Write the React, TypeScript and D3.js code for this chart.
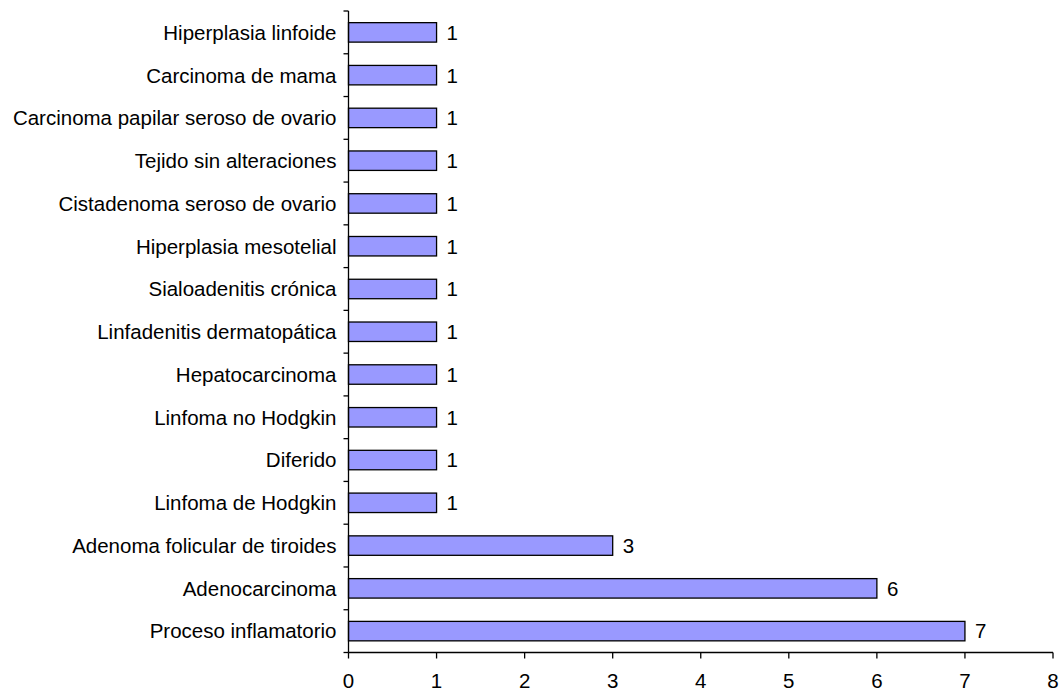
import React from "react";
import * as d3 from "d3";

const categories = [
  "Hiperplasia linfoide",
  "Carcinoma de mama",
  "Carcinoma papilar seroso de ovario",
  "Tejido sin alteraciones",
  "Cistadenoma seroso de ovario",
  "Hiperplasia mesotelial",
  "Sialoadenitis crónica",
  "Linfadenitis dermatopática",
  "Hepatocarcinoma",
  "Linfoma no Hodgkin",
  "Diferido",
  "Linfoma de Hodgkin",
  "Adenoma folicular de tiroides",
  "Adenocarcinoma",
  "Proceso inflamatorio",
];
const counts = [1, 1, 1, 1, 1, 1, 1, 1, 1, 1, 1, 1, 3, 6, 7];
const xTicks = [0, 1, 2, 3, 4, 5, 6, 7, 8];

const W = 1063;
const H = 692;
const left = 348.5;
const right = 1053;
const top = 11;
const bottom = 652.5;
const fontSize = 20.5;
const font = "'Liberation Sans', Arial, sans-serif";

export default function App() {
  const x = d3.scaleLinear().domain([0, 8]).range([left, right]);
  const y = d3
    .scaleBand<string>()
    .domain(categories)
    .range([top, bottom])
    .paddingInner(0.545)
    .paddingOuter(0.2725);
  const bandEdges = d3.range(categories.length + 1).map(
    (i) => top + (i * (bottom - top)) / categories.length
  );

  return (
    <svg
      width={W}
      height={H}
      style={{ position: "absolute", left: 0, top: 0, background: "#fff" }}
      fontFamily={font}
    >
      {categories.map((c, i) => (
        <g key={c}>
          <rect
            x={x(0)}
            y={y(c)!}
            width={x(counts[i]) - x(0)}
            height={y.bandwidth()}
            fill="#9999FF"
            stroke="#000"
            strokeWidth={1.3}
          />
          <text
            x={x(counts[i]) + 10}
            y={y(c)! + y.bandwidth() / 2}
            dy="0.36em"
            fontSize={fontSize}
            fill="#000"
          >
            {counts[i]}
          </text>
          <text
            x={left - 12}
            y={y(c)! + y.bandwidth() / 2}
            dy="0.36em"
            fontSize={fontSize}
            textAnchor="end"
            fill="#000"
          >
            {c}
          </text>
        </g>
      ))}
      {/* category axis */}
      <line x1={left} x2={left} y1={top} y2={bottom} stroke="#000" strokeWidth={1.3} />
      {bandEdges.map((e, i) => (
        <line key={i} x1={left - 5} x2={left} y1={e} y2={e} stroke="#000" strokeWidth={1.3} />
      ))}
      {/* value axis */}
      <line x1={left} x2={right} y1={bottom} y2={bottom} stroke="#000" strokeWidth={1.3} />
      {xTicks.map((t) => (
        <g key={t}>
          <line x1={x(t)} x2={x(t)} y1={bottom} y2={bottom + 6} stroke="#000" strokeWidth={1.3} />
          <text x={x(t)} y={bottom + 35.5} textAnchor="middle" fontSize={fontSize} fill="#000">
            {t}
          </text>
        </g>
      ))}
    </svg>
  );
}
